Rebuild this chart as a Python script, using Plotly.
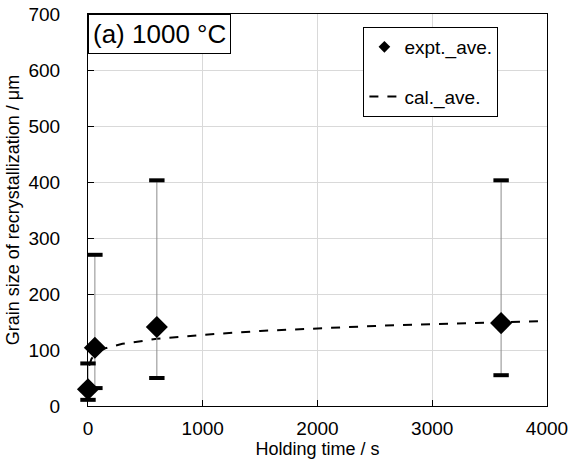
import plotly.graph_objects as go

# Experimental data
expt_time = [0, 60, 600, 3600]
expt_ave = [30, 104, 141, 148]
expt_min = [11, 32, 50, 55]
expt_max = [76, 270, 403, 403]

# Calculated curve
cal_time = [10, 30, 60, 100, 150, 300, 600, 1000, 1500, 2000, 2500, 3000, 3600, 4000]
cal_ave = [72, 84, 92, 98, 103, 111, 120, 127, 134, 139, 143, 146, 149, 152]

x_ticks = [0, 1000, 2000, 3000, 4000]
y_ticks = [0, 100, 200, 300, 400, 500, 600, 700]

FONT = "Liberation Sans, Arial, sans-serif"

fig = go.Figure()

# calculated dashed line
fig.add_trace(go.Scatter(
    x=cal_time, y=cal_ave, mode="lines",
    line=dict(color="black", width=2, dash="dash"),
    name="cal._ave.", showlegend=False, cliponaxis=False,
))

# error bar stems (gray, thin)
fig.add_trace(go.Scatter(
    x=expt_time, y=expt_ave, mode="markers",
    marker=dict(size=1, color="rgba(0,0,0,0)"),
    error_y=dict(type="data", symmetric=False,
                 array=[hi - m for hi, m in zip(expt_max, expt_ave)],
                 arrayminus=[m - lo for lo, m in zip(expt_min, expt_ave)],
                 color="#8c8c8c", thickness=1, width=0),
    showlegend=False, hoverinfo="skip", cliponaxis=False,
))

# caps (black thick)
fig.add_trace(go.Scatter(
    x=expt_time + expt_time, y=expt_min + expt_max, mode="markers",
    marker=dict(symbol="line-ew", size=11, line=dict(color="black", width=4)),
    showlegend=False, hoverinfo="skip", cliponaxis=False,
))

# diamonds
fig.add_trace(go.Scatter(
    x=expt_time, y=expt_ave, mode="markers",
    marker=dict(symbol="diamond", size=17, color="black"),
    name="expt._ave.", showlegend=False, cliponaxis=False,
))

# legend-only entries
fig.add_trace(go.Scatter(
    x=[None], y=[None], mode="markers",
    marker=dict(symbol="diamond", size=9, color="black"),
    name="expt._ave.", legendgroup="a",
))
fig.add_trace(go.Scatter(
    x=[None], y=[None], mode="lines",
    line=dict(color="black", width=2, dash="dash"),
    name="cal._ave.", legendgroup="b",
))

fig.update_layout(
    width=571, height=470,
    margin=dict(l=88, r=24, t=14, b=64, autoexpand=False),
    paper_bgcolor="white", plot_bgcolor="white",
    font=dict(family=FONT, color="black", size=18),
    legend=dict(
        x=0.600, y=0.967, xanchor="left", yanchor="top",
        bordercolor="black", borderwidth=1, bgcolor="white",
        font=dict(size=19), tracegroupgap=22, traceorder="grouped",
        entrywidth=110, entrywidthmode="pixels",
    ),
    xaxis=dict(
        range=[0, 4000], tickvals=x_ticks, ticks="inside", ticklen=6,
        tickcolor="black", showline=True, linecolor="black", linewidth=1,
        mirror=True, showgrid=True, gridcolor="#d9d9d9", gridwidth=1,
        zeroline=False, tickfont=dict(size=19), ticklabelstandoff=5,
        automargin=False,
        title=dict(text="Holding time / s", font=dict(size=18), standoff=4),
    ),
    yaxis=dict(
        range=[0, 700], tickvals=y_ticks, ticks="inside", ticklen=6,
        tickcolor="black", showline=True, linecolor="black", linewidth=1,
        mirror=True, showgrid=True, gridcolor="#d9d9d9", gridwidth=1,
        zeroline=False, tickfont=dict(size=19), ticklabelstandoff=23,
        automargin=False,
        title=dict(text="Grain size of recrystallization / μm", font=dict(size=18), standoff=4),
    ),
    annotations=[dict(
        text="(a) 1000 °C", xref="paper", yref="paper", x=0, y=1,
        xanchor="left", yanchor="top", showarrow=False,
        font=dict(size=26), bgcolor="white", bordercolor="black",
        borderwidth=1, borderpad=4,
    )],
)

fig.write_html("out.html")
